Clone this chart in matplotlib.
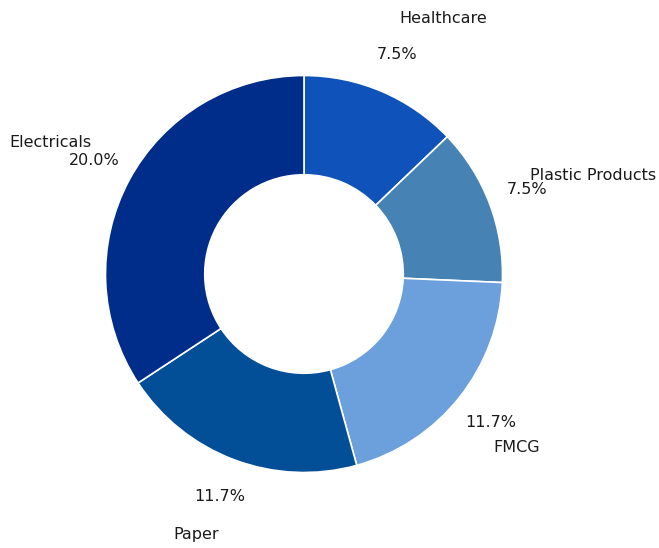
import matplotlib
matplotlib.use("Agg")
import matplotlib.pyplot as plt

categories = ["Healthcare", "Plastic Products", "FMCG", "Paper", "Electricals"]
values = [7.5, 7.5, 11.7, 11.7, 20.0]
colors = ["#0F52BA", "#4682B4", "#6CA0DC", "#024F98", "#002D8A"]

total = sum(values)

W, H = 659, 548
fig = plt.figure(figsize=(W / 100, H / 100), dpi=100)
R = 198.5
cx, cy = 304.0, H - 274.0
ax = fig.add_axes([(cx - 1.5 * R) / W, (cy - 1.5 * R) / H, 3 * R / W, 3 * R / H])

wedges, texts, autotexts = ax.pie(
    values,
    labels=categories,
    colors=colors,
    startangle=90,
    counterclock=False,
    autopct=lambda p: f"{p * total / 100:.1f}%",
    pctdistance=1.2,
    labeldistance=1.4,
    wedgeprops=dict(width=0.5, edgecolor="white", linewidth=1.2),
    textprops=dict(fontsize=11.5, color="#1a1a1a"),
    frame=True,
)
ax.axis("off")
ax.set_xlim(-1.5, 1.5)
ax.set_ylim(-1.5, 1.5)

for t in texts:
    x, y = t.get_position()
    t.set_position((x * 0.87, y))

fig.savefig("out.png", dpi=100)
